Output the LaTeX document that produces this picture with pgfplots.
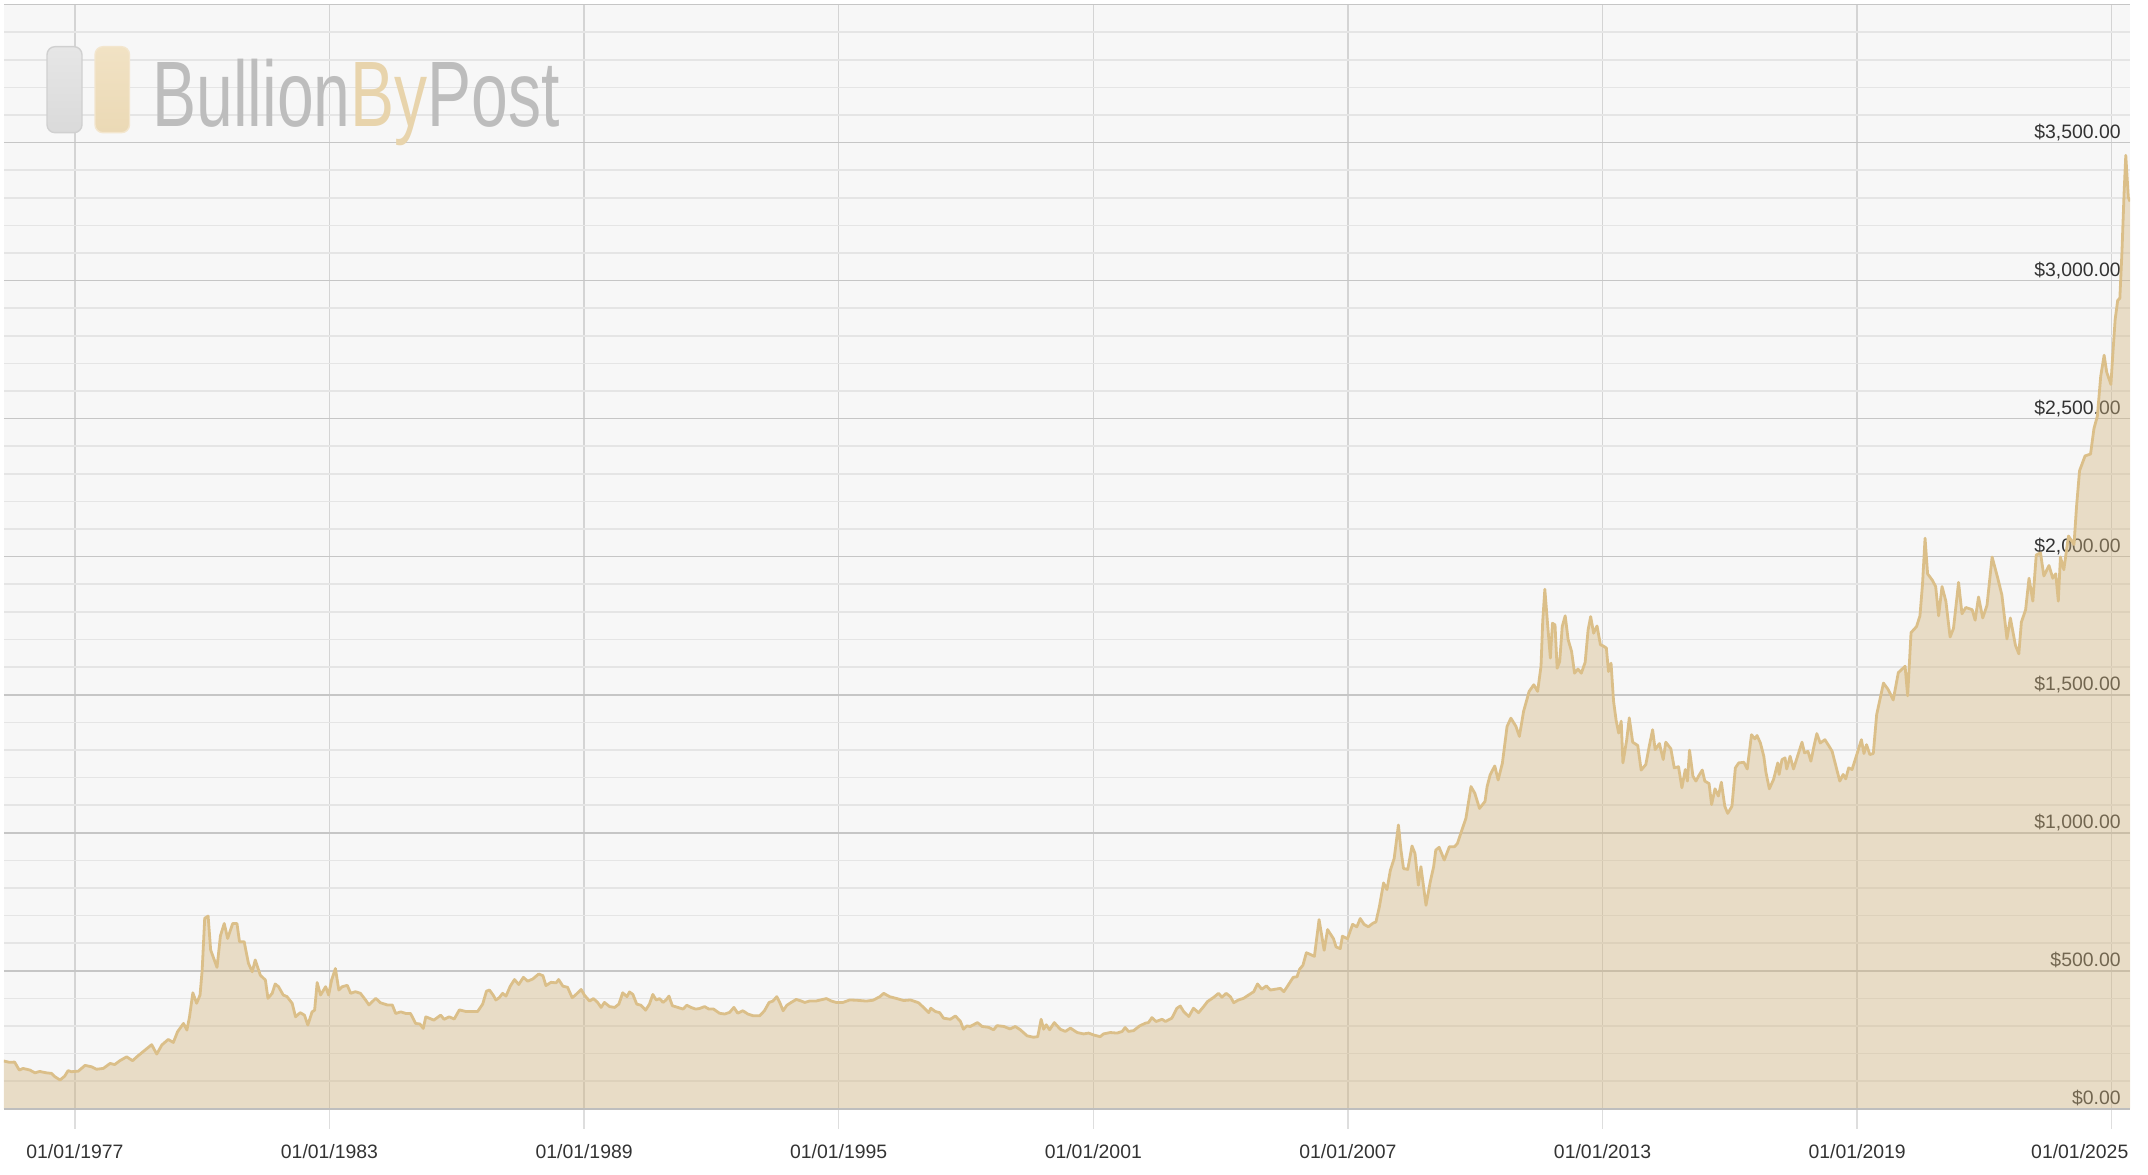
\documentclass[border=0pt]{standalone}
\usepackage{pgfplots}
\pgfplotsset{compat=1.18}
\usepackage{pgfplotstable}
\usepackage{fontspec}
\setmainfont{Liberation Sans}
\newfontfamily\logofont[FakeStretch=0.71]{Liberation Sans}

\definecolor{bgc}{RGB}{247,247,247}
\definecolor{minorg}{RGB}{229,229,229}
\definecolor{majorg}{RGB}{198,198,198}
\definecolor{vertg}{RGB}{212,212,212}
\definecolor{tickg}{RGB}{222,222,222}
\definecolor{axisg}{RGB}{190,190,190}
\definecolor{goldfill}{RGB}{210,180,125}
\definecolor{goldline}{RGB}{219,191,137}
\definecolor{labc}{RGB}{51,51,51}
\definecolor{logogrey}{RGB}{189,189,189}
\definecolor{logogold}{RGB}{232,212,172}
\definecolor{rectgA}{RGB}{230,230,230}
\definecolor{rectgB}{RGB}{218,218,218}
\definecolor{rectgD}{RGB}{208,208,208}
\definecolor{rectoA}{RGB}{241,226,196}
\definecolor{rectoB}{RGB}{235,217,181}
\definecolor{rectoD}{RGB}{243,230,206}

\pgfplotstableread{
year price
1975.32 173
1975.46 168
1975.58 169
1975.69 140
1975.78 146
1975.94 140
1976.06 130
1976.17 135
1976.33 130
1976.45 128
1976.53 116
1976.65 104
1976.76 118
1976.84 138
1976.92 134
1977.08 136
1977.24 157
1977.39 152
1977.51 143
1977.67 146
1977.83 164
1977.94 160
1978.06 174
1978.22 188
1978.36 174
1978.46 188
1978.61 207
1978.81 232
1978.93 198
1979.05 231
1979.20 251
1979.32 240
1979.42 279
1979.56 309
1979.64 285
1979.70 331
1979.78 420
1979.87 382
1979.95 412
1980.00 502
1980.06 690
1980.14 698
1980.20 575
1980.35 512
1980.43 626
1980.52 671
1980.60 617
1980.72 671
1980.82 671
1980.88 605
1980.99 605
1981.09 527
1981.18 496
1981.25 539
1981.37 484
1981.49 466
1981.55 400
1981.65 418
1981.72 452
1981.80 442
1981.91 412
1982.00 406
1982.12 382
1982.20 333
1982.31 348
1982.41 339
1982.49 303
1982.59 351
1982.65 357
1982.71 457
1982.79 412
1982.91 442
1982.98 412
1983.05 466
1983.14 508
1983.22 430
1983.30 442
1983.42 447
1983.50 418
1983.61 424
1983.73 418
1983.85 394
1983.93 376
1984.09 400
1984.20 384
1984.36 376
1984.48 376
1984.56 345
1984.68 351
1984.80 345
1984.91 345
1985.03 309
1985.13 307
1985.21 291
1985.27 333
1985.46 321
1985.62 339
1985.70 324
1985.82 333
1985.94 325
1986.06 358
1986.22 352
1986.49 352
1986.61 379
1986.70 426
1986.77 430
1986.86 411
1986.92 394
1987.00 402
1987.08 418
1987.16 408
1987.26 444
1987.36 468
1987.46 450
1987.57 476
1987.67 462
1987.79 470
1987.93 488
1988.03 482
1988.10 446
1988.22 458
1988.34 456
1988.40 468
1988.50 444
1988.61 440
1988.72 402
1988.81 414
1988.93 432
1989.01 411
1989.13 390
1989.22 399
1989.32 385
1989.40 367
1989.48 385
1989.60 370
1989.72 367
1989.82 379
1989.91 420
1990.01 406
1990.07 423
1990.15 414
1990.24 379
1990.34 375
1990.45 357
1990.54 379
1990.62 414
1990.70 394
1990.78 399
1990.86 385
1990.93 394
1991.00 408
1991.08 373
1991.21 367
1991.33 361
1991.42 375
1991.52 367
1991.63 361
1991.72 363
1991.84 370
1991.94 361
1992.05 361
1992.19 346
1992.31 343
1992.43 349
1992.53 367
1992.62 346
1992.74 355
1992.86 343
1992.98 337
1993.14 337
1993.25 355
1993.36 385
1993.45 390
1993.54 406
1993.61 385
1993.69 355
1993.78 375
1993.88 385
1994.00 396
1994.12 390
1994.20 385
1994.31 390
1994.46 390
1994.57 394
1994.71 399
1994.83 390
1994.94 385
1995.10 385
1995.26 394
1995.42 393
1995.65 390
1995.81 393
1995.97 406
1996.06 418
1996.20 406
1996.37 399
1996.53 392
1996.69 394
1996.88 384
1997.00 367
1997.12 348
1997.17 364
1997.28 352
1997.38 348
1997.47 328
1997.63 324
1997.75 336
1997.87 316
1997.94 288
1998.02 300
1998.10 298
1998.27 312
1998.38 298
1998.53 295
1998.65 286
1998.73 301
1998.89 298
1999.04 289
1999.16 298
1999.28 286
1999.44 264
1999.59 259
1999.69 261
1999.77 324
1999.83 288
1999.89 304
1999.97 286
2000.08 312
2000.22 288
2000.34 280
2000.46 292
2000.62 276
2000.77 271
2000.89 274
2001.01 267
2001.16 261
2001.24 271
2001.40 276
2001.56 274
2001.68 280
2001.75 294
2001.83 280
2001.95 283
2002.09 300
2002.23 310
2002.30 312
2002.38 330
2002.48 316
2002.62 324
2002.70 316
2002.85 328
2002.97 364
2003.05 372
2003.13 352
2003.25 334
2003.36 364
2003.48 348
2003.60 370
2003.69 388
2003.84 404
2003.95 418
2004.03 404
2004.13 418
2004.23 406
2004.31 384
2004.42 394
2004.54 400
2004.66 412
2004.78 424
2004.87 452
2004.97 433
2005.08 445
2005.17 430
2005.29 433
2005.41 436
2005.49 424
2005.58 445
2005.71 476
2005.80 478
2005.86 505
2005.94 520
2006.02 565
2006.07 562
2006.21 552
2006.32 685
2006.44 574
2006.52 649
2006.66 616
2006.72 586
2006.82 580
2006.87 625
2006.99 616
2007.11 668
2007.21 659
2007.29 689
2007.38 668
2007.48 659
2007.58 671
2007.66 677
2007.74 731
2007.84 818
2007.92 794
2008.00 864
2008.09 907
2008.19 1028
2008.25 937
2008.31 870
2008.41 867
2008.51 952
2008.58 925
2008.66 810
2008.72 877
2008.84 737
2008.94 822
2009.02 877
2009.07 937
2009.15 947
2009.27 901
2009.39 949
2009.51 949
2009.58 961
2009.70 1016
2009.78 1052
2009.90 1167
2009.99 1143
2010.10 1088
2010.23 1113
2010.28 1167
2010.35 1209
2010.46 1242
2010.54 1191
2010.64 1252
2010.75 1385
2010.84 1415
2010.96 1385
2011.04 1349
2011.14 1440
2011.27 1512
2011.38 1536
2011.47 1512
2011.55 1603
2011.59 1765
2011.64 1882
2011.70 1765
2011.77 1633
2011.82 1759
2011.88 1753
2011.93 1596
2011.99 1620
2012.05 1747
2012.12 1786
2012.19 1699
2012.27 1657
2012.34 1578
2012.42 1593
2012.50 1578
2012.59 1617
2012.66 1735
2012.72 1783
2012.79 1723
2012.87 1749
2012.95 1681
2013.01 1677
2013.09 1669
2013.14 1584
2013.20 1614
2013.26 1476
2013.32 1407
2013.38 1361
2013.44 1404
2013.48 1253
2013.57 1337
2013.63 1416
2013.71 1328
2013.83 1316
2013.91 1227
2014.02 1247
2014.10 1313
2014.18 1373
2014.24 1301
2014.34 1323
2014.43 1265
2014.49 1328
2014.61 1304
2014.69 1235
2014.79 1239
2014.87 1163
2014.95 1229
2015.00 1187
2015.05 1299
2015.13 1205
2015.20 1187
2015.27 1207
2015.35 1227
2015.41 1187
2015.51 1178
2015.57 1102
2015.65 1159
2015.73 1133
2015.80 1183
2015.88 1096
2015.95 1070
2016.05 1096
2016.13 1235
2016.21 1253
2016.33 1255
2016.41 1231
2016.51 1355
2016.59 1340
2016.64 1352
2016.72 1325
2016.80 1277
2016.85 1219
2016.93 1159
2017.03 1193
2017.13 1253
2017.16 1211
2017.23 1265
2017.30 1271
2017.34 1231
2017.42 1277
2017.50 1231
2017.62 1289
2017.70 1328
2017.76 1289
2017.84 1295
2017.91 1259
2017.99 1319
2018.05 1359
2018.13 1325
2018.24 1337
2018.34 1313
2018.41 1295
2018.52 1229
2018.59 1187
2018.67 1211
2018.73 1195
2018.80 1235
2018.88 1229
2019.01 1292
2019.10 1337
2019.16 1287
2019.22 1319
2019.30 1283
2019.38 1287
2019.46 1428
2019.62 1542
2019.73 1519
2019.85 1481
2019.97 1580
2020.13 1603
2020.19 1496
2020.27 1725
2020.40 1747
2020.48 1786
2020.54 1900
2020.60 2067
2020.66 1938
2020.77 1915
2020.85 1892
2020.92 1786
2021.00 1892
2021.09 1839
2021.19 1709
2021.27 1740
2021.39 1907
2021.47 1793
2021.56 1816
2021.71 1808
2021.78 1770
2021.86 1854
2021.96 1778
2022.06 1824
2022.18 1999
2022.30 1930
2022.41 1862
2022.53 1702
2022.61 1778
2022.73 1679
2022.81 1648
2022.87 1763
2022.97 1808
2023.05 1922
2023.14 1839
2023.22 2006
2023.32 2014
2023.40 1930
2023.52 1968
2023.61 1922
2023.68 1938
2023.74 1839
2023.79 1999
2023.87 1953
2023.98 2075
2024.11 2044
2024.17 2182
2024.24 2311
2024.37 2365
2024.50 2372
2024.58 2464
2024.66 2509
2024.74 2654
2024.82 2730
2024.88 2669
2024.98 2624
2025.02 2723
2025.08 2860
2025.14 2929
2025.19 2936
2025.24 3104
2025.29 3317
2025.33 3454
2025.39 3302
2025.43 3287
}\gold

\begin{document}
\begin{tikzpicture}
\begin{axis}[
  name=ax,
  scale only axis,
  width=1063pt, height=552pt,
  xmin=1975.33, xmax=2025.43,
  ymin=0, ymax=4000,
  clip mode=individual,
  axis background/.style={fill=bgc},
  axis line style={draw=none},
  xtick={1977,1983,1989,1995,2001,2007,2013,2019,2025},
  xticklabels={01/01/1977,01/01/1983,01/01/1989,01/01/1995,01/01/2001,01/01/2007,01/01/2013,01/01/2019,{\hspace*{-32pt}01/01/2025}},
  ytick={0,500,1000,1500,2000,2500,3000,3500,4000},
  yticklabels={\$0.00,\$500.00,{\$1,000.00},{\$1,500.00},{\$2,000.00},{\$2,500.00},{\$3,000.00},{\$3,500.00},{}},
  minor y tick num=4,
  xmajorgrids, ymajorgrids, yminorgrids,
  major x grid style={draw=vertg, line width=0.7pt},
  major y grid style={draw=majorg, line width=0.8pt},
  minor y grid style={draw=minorg, line width=0.8pt},
  tick align=outside,
  major tick length=10pt, minor tick length=0pt,
  xtick pos=left,
  xtick style={draw=tickg, line width=0.7pt},
  ytick style={draw=none},
  yticklabel pos=right,
  yticklabel style={anchor=base east, xshift=-14.5pt, yshift=2.2pt, inner sep=0pt,
     font=\fontsize{9.7}{11}\selectfont, text=labc},
  xticklabel style={anchor=base, yshift=-14.75pt, inner sep=0pt,
     font=\fontsize{9.7}{11}\selectfont, text=labc},
]
\addplot[draw=none, fill=goldfill, fill opacity=0.4] table[x=year, y=price] {\gold} \closedcycle;
\addplot[draw=goldline, line width=1.4pt, line join=round, mark=none] table[x=year, y=price] {\gold};
\draw[draw=axisg, line width=1.2pt] (rel axis cs:0,0) -- (rel axis cs:1,0);
\end{axis}
\begin{scope}[shift={(ax.north west)}]
  \draw[rounded corners=4pt, draw=rectgD, line width=0.7pt, top color=rectgA, bottom color=rectgB]
        (21.5pt,-21pt) rectangle (39pt,-64pt);
  \draw[rounded corners=4pt, draw=rectoD, line width=0.7pt, top color=rectoA, bottom color=rectoB]
        (45.5pt,-21pt) rectangle (62.75pt,-64pt);
  \node[anchor=base west, inner sep=0pt] at (74pt,-61pt)
    {\fontsize{46.5}{50}\selectfont\logofont\color{logogrey}Bullion\color{logogold}By\color{logogrey}Post};
\end{scope}
\pgfresetboundingbox
\path ([shift={(-2pt,-32.65pt)}]ax.south west) rectangle ([shift={(9pt,2.35pt)}]ax.north east);
\end{tikzpicture}
\end{document}
